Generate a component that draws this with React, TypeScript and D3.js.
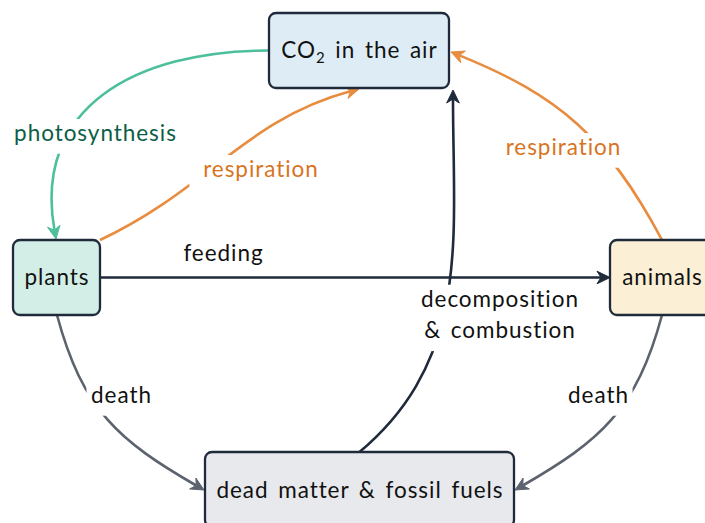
import React from "react";
import * as d3 from "d3";

// ---- data ----
const NODE_IDS = ["co2", "plants", "animals", "dead"];
const NODE_TEXT = ["CO2 in the air", "plants", "animals", "dead matter & fossil fuels"];
const EDGE_FROM = ["co2", "plants", "animals", "plants", "plants", "animals", "dead"];
const EDGE_TO = ["plants", "co2", "co2", "animals", "dead", "dead", "co2"];
const EDGE_TEXT = [
  ["photosynthesis"],
  ["respiration"],
  ["respiration"],
  ["feeding"],
  ["death"],
  ["death"],
  ["decomposition", "& combustion"],
];

// ---- layout / style ----
const W = 705;
const H = 523;
const FONT = "Lato, 'Open Sans', sans-serif";
const FS = 22.5;
const LS = 0.95;
const WS = 3;
const DARK = "#1f2a3a";

const NODE_BOX: Record<string, { cx: number; cy: number; w: number; h: number; fill: string; ty: number }> = {
  co2: { cx: 359, cy: 50.5, w: 180, h: 75, fill: "#deedf5", ty: 58.3 },
  plants: { cx: 56.5, cy: 277.5, w: 87, h: 75, fill: "#d3eee6", ty: 284.5 },
  animals: { cx: 662, cy: 277.5, w: 104, h: 75, fill: "#fbefd6", ty: 285 },
  dead: { cx: 359.5, cy: 489.5, w: 309, h: 75, fill: "#e8e9ec", ty: 498.3 },
};

type EdgeGeom = {
  p0: [number, number];
  p3: [number, number];
  out?: number;
  inn?: number;
  loose?: number;
  color: string;
  labelColor: string;
  lx: number;
  ly: number;
  bg: boolean;
};

const EDGE_GEOM: EdgeGeom[] = [
  { p0: [269, 50.5], p3: [56, 239], out: 180, inn: 100, loose: 1.2, color: "#4dbf9c", labelColor: "#0b5e46", lx: 95, ly: 141, bg: true },
  { p0: [100, 240], p3: [359, 89], out: 25, inn: 195, loose: 1, color: "#e88c3f", labelColor: "#d8741f", lx: 260.5, ly: 177, bg: true },
  { p0: [662, 240], p3: [451, 52], out: 118, inn: -22, loose: 1.05, color: "#e88c3f", labelColor: "#d8741f", lx: 563, ly: 155, bg: true },
  { p0: [100, 277.5], p3: [610, 277.5], color: DARK, labelColor: "#111", lx: 223, ly: 260.5, bg: false },
  { p0: [57, 315], p3: [204, 490], out: -75, inn: 150, loose: 1.1, color: "#5d636e", labelColor: "#111", lx: 121, ly: 403, bg: true },
  { p0: [662, 315], p3: [515, 490], out: -105, inn: 30, loose: 1.1, color: "#5d636e", labelColor: "#111", lx: 598, ly: 403, bg: true },
  { p0: [359.5, 452], p3: [453, 90], out: 40, inn: -90, loose: 1, color: DARK, labelColor: "#111", lx: 499.5, ly: 306.7, bg: true },
];

const dir = (a: number): [number, number] => [Math.cos((a * Math.PI) / 180), -Math.sin((a * Math.PI) / 180)];

function edgePath(g: EdgeGeom) {
  const [x0, y0] = g.p0;
  const [x3, y3] = g.p3;
  const ARROW_L = 13;
  const NOTCH = 4;
  const p = d3.path();
  p.moveTo(x0, y0);
  let tangent: [number, number];
  if (g.out === undefined) {
    const dx = x3 - x0, dy = y3 - y0, len = Math.hypot(dx, dy);
    tangent = [dx / len, dy / len];
    p.lineTo(x3 - tangent[0] * (ARROW_L - NOTCH), y3 - tangent[1] * (ARROW_L - NOTCH));
  } else {
    const dist = Math.hypot(x3 - x0, y3 - y0);
    const L = 0.3915 * dist * (g.loose ?? 1);
    const d1 = dir(g.out);
    const d2 = dir(g.inn!);
    const c1: [number, number] = [x0 + d1[0] * L, y0 + d1[1] * L];
    const c2: [number, number] = [x3 + d2[0] * L, y3 + d2[1] * L];
    tangent = [-d2[0], -d2[1]];
    p.bezierCurveTo(c1[0], c1[1], c2[0], c2[1], x3 - tangent[0] * (ARROW_L - NOTCH), y3 - tangent[1] * (ARROW_L - NOTCH));
  }
  const [tx, ty] = tangent;
  const nx = -ty, ny = tx;
  const hw = 6.3;
  const a = d3.path();
  a.moveTo(x3, y3);
  a.lineTo(x3 - tx * ARROW_L + nx * hw, y3 - ty * ARROW_L + ny * hw);
  a.lineTo(x3 - tx * (ARROW_L - NOTCH), y3 - ty * (ARROW_L - NOTCH));
  a.lineTo(x3 - tx * ARROW_L - nx * hw, y3 - ty * ARROW_L - ny * hw);
  a.closePath();
  return { line: p.toString(), arrow: a.toString() };
}

const textStyle = { letterSpacing: `${LS}px`, wordSpacing: `${WS}px` } as React.CSSProperties;

export default function App() {
  const lineH = 31.7;
  return (
    <svg
      width={W}
      height={H}
      viewBox={`0 0 ${W} ${H}`}
      style={{ position: "absolute", left: 0, top: 0, background: "#fff" }}
      fontFamily={FONT}
    >
      {/* edges */}
      {EDGE_GEOM.map((g, i) => {
        const { line, arrow } = edgePath(g);
        return (
          <g key={`e${i}`}>
            <path d={line} fill="none" stroke={g.color} strokeWidth={2.6} />
            <path d={arrow} fill={g.color} stroke={g.color} strokeWidth={1} strokeLinejoin="miter" />
          </g>
        );
      })}
      {/* edge labels */}
      {EDGE_GEOM.map((g, i) => {
        const lines = EDGE_TEXT[i];
        const maxLen = Math.max(...lines.map((s) => s.length));
        const bw = maxLen * (FS * 0.5 + LS) + 8;
        const bh = lines.length * lineH;
        return (
          <g key={`l${i}`}>
            {g.bg && (
              <rect x={g.lx - bw / 2} y={g.ly - 22} width={bw} height={bh + 3} fill="#fff" />
            )}
            {lines.map((s, j) => (
              <text
                key={j}
                x={g.lx + LS / 2}
                y={g.ly + j * lineH}
                textAnchor="middle"
                fontSize={FS}
                fill={g.labelColor}
                style={textStyle}
              >
                {s}
              </text>
            ))}
          </g>
        );
      })}
      {/* nodes */}
      {NODE_IDS.map((id, i) => {
        const b = NODE_BOX[id];
        const label = NODE_TEXT[i];
        return (
          <g key={id}>
            <rect
              x={b.cx - b.w / 2}
              y={b.cy - b.h / 2}
              width={b.w}
              height={b.h}
              rx={7}
              fill={b.fill}
              stroke={DARK}
              strokeWidth={2.3}
            />
            {id === "co2" ? (
              <text x={b.cx + LS / 2} y={b.ty} textAnchor="middle" fontSize={FS} fill="#111" style={textStyle}>
                {label.slice(0, 2)}
                <tspan fontSize={15} dy={5}>{label.slice(2, 3)}</tspan>
                <tspan dy={-5}>{label.slice(3)}</tspan>
              </text>
            ) : (
              <text x={b.cx + LS / 2} y={b.ty} textAnchor="middle" fontSize={FS} fill="#111" style={textStyle}>
                {label}
              </text>
            )}
          </g>
        );
      })}
    </svg>
  );
}
